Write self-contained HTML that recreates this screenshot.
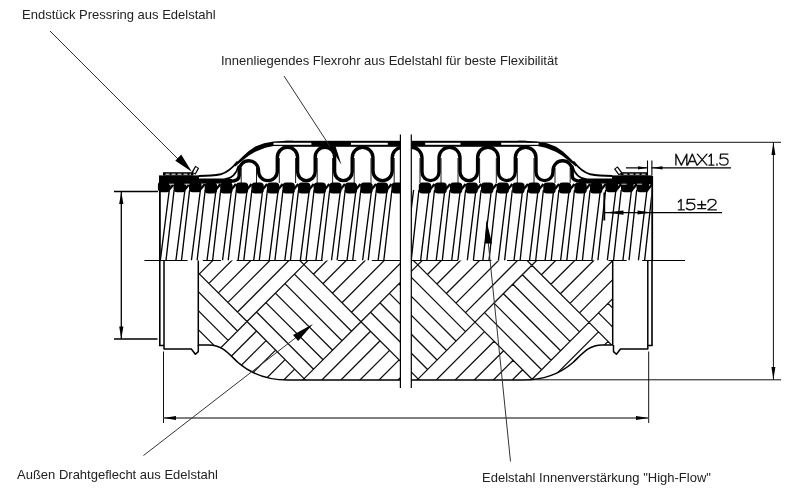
<!DOCTYPE html>
<html><head><meta charset="utf-8"><title>Flexrohr</title>
<style>
html,body{margin:0;padding:0;background:#fff;}
body{width:800px;height:491px;position:relative;overflow:hidden;font-family:"Liberation Sans",sans-serif;}
.t{position:absolute;white-space:nowrap;color:#222;line-height:1;font-size:13px;will-change:transform;}
.c{color:#111;}
</style></head><body>
<svg width="800" height="491" viewBox="0 0 800 491" style="position:absolute;left:0;top:0"><defs><clipPath id="bc"><path d="M198.3,260.5 L198.3,345 L209,345 C222,345 228,353 238,362.5 C250,373 265,380 288,380 L523,380 C546,380 561,373 573,362.5 C583,353 589,345 602,345 L612.7,345 L612.7,260.5 Z"/></clipPath>
<clipPath id="uc"><rect x="159.5" y="183" width="492" height="77.5"/></clipPath></defs>
<g clip-path="url(#bc)"><path d="M190.2,378.4L133.3,435.2M133.0,321.2L190.2,378.4M142.5,311.7L199.6,368.9M151.9,302.2L209.1,359.4M161.4,292.8L218.6,349.9M170.9,283.3L228.1,340.4M180.4,273.8L237.5,331.0M189.8,264.4L247.0,321.5M246.7,207.5L189.8,264.4M256.2,217.0L199.4,273.9M265.8,226.6L208.9,283.4M275.3,236.1L218.4,292.9M284.8,245.6L227.9,302.4M294.3,255.1L237.5,312.0M303.9,264.6L247.0,321.5M246.7,207.5L303.9,264.6M256.2,198.0L313.3,255.2M190.2,378.4L247.3,435.5M247.0,321.5L190.2,378.4M256.5,331.0L199.7,387.9M266.1,340.6L209.2,397.4M275.6,350.1L218.7,406.9M285.1,359.6L228.3,416.5M294.6,369.1L237.8,426.0M304.1,378.6L247.3,435.5M247.0,321.5L304.1,378.6M256.5,312.0L313.6,369.2M265.9,302.6L323.1,359.7M275.4,293.1L332.6,350.2M284.9,283.6L342.0,340.8M294.4,274.1L351.5,331.3M303.9,264.6L361.0,321.8M360.7,207.8L303.9,264.6M370.2,217.3L313.4,274.2M379.8,226.9L322.9,283.7M389.3,236.4L332.4,293.2M398.8,245.9L342.0,302.8M408.3,255.4L351.5,312.3M417.8,264.9L361.0,321.8M360.7,207.8L417.8,264.9M370.2,198.3L427.3,255.5M304.1,378.6L361.3,435.8M361.0,321.8L304.1,378.6M370.5,331.3L313.7,388.2M380.1,340.8L323.2,397.7M389.6,350.4L332.7,407.2M399.1,359.9L342.2,416.8M408.6,369.4L351.8,426.3M418.1,378.9L361.3,435.8M361.0,321.8L418.1,378.9M370.5,312.3L427.6,369.5M379.9,302.8L437.1,360.0M389.4,293.4L446.6,350.5M398.9,283.9L456.0,341.0M408.4,274.4L465.5,331.6M417.8,264.9L475.0,322.1M474.7,208.1L417.8,264.9M484.2,217.6L427.4,274.5M493.8,227.1L436.9,284.0M503.3,236.7L446.4,293.5M512.8,246.2L455.9,303.1M522.3,255.7L465.5,312.6M531.8,265.2L475.0,322.1M474.7,208.1L531.8,265.2M484.2,198.6L541.3,255.8M418.1,379.0L475.3,436.1M475.0,322.1L418.2,378.9M484.5,331.6L427.7,388.5M494.1,341.2L437.2,398.0M503.6,350.7L446.7,407.5M513.1,360.2L456.3,417.1M522.6,369.7L465.8,426.6M532.2,379.3L475.3,436.1M475.0,322.1L532.1,379.2M484.5,312.6L541.6,369.8M494.0,303.1L551.1,360.3M503.4,293.7L560.6,350.8M512.9,284.2L570.0,341.4M522.4,274.7L579.5,331.9M531.9,265.2L589.0,322.4M588.7,208.4L531.9,265.2M598.2,217.9L541.4,274.8M607.8,227.5L550.9,284.3M617.3,237.0L560.4,293.8M626.8,246.5L570.0,303.4M636.3,256.0L579.5,312.9M645.9,265.6L589.0,322.4M588.7,208.4L645.9,265.5M598.2,198.9L655.3,256.1M532.1,379.2L589.3,436.4M589.0,322.4L532.1,379.2M598.5,331.9L541.7,388.8M608.0,341.4L551.2,398.3M617.6,351.0L560.7,407.8M627.1,360.5L570.2,417.4M636.6,370.0L579.8,426.9M646.2,379.6L589.3,436.4M589.0,322.4L646.2,379.6M598.5,312.9L655.6,370.1M608.0,303.4L665.1,360.6M617.4,294.0L674.6,351.1" stroke="#111" stroke-width="1.3" fill="none"/></g>
<path d="M198.3,260.5 L198.3,345 L209,345 C222,345 228,353 238,362.5 C250,373 265,380 288,380 L523,380 C546,380 561,373 573,362.5 C583,353 589,345 602,345 L612.7,345 L612.7,260.5" stroke="#000" stroke-width="1.5" fill="none"/>
<path d="M159.8,260.5 L159.8,345.5 L164,345.5" stroke="#000" stroke-width="1.6" fill="none"/><path d="M164,260.5 L164,349 L191.3,349 L195.4,354.3 L198.3,351.6 L198.3,345" stroke="#000" stroke-width="1.5" fill="none" stroke-linejoin="round"/>
<path d="M652,260.5 L652,345.5 L647.8,345.5" stroke="#000" stroke-width="1.6" fill="none"/><path d="M647.8,260.5 L647.8,349 L620.5,349 L616.4,354.3 L613.5,351.6 L613.5,345" stroke="#000" stroke-width="1.5" fill="none" stroke-linejoin="round"/>
<g clip-path="url(#uc)"><path d="M138.2,190.0L129.2,260.5M153.7,190.0L144.7,260.5M169.3,190.0L160.3,260.5M184.9,190.0L175.9,260.5M200.4,190.0L191.4,260.5M216.0,190.0L207.0,260.5M231.5,190.0L222.5,260.5M247.1,190.0L238.1,260.5M262.7,190.0L253.7,260.5M278.2,190.0L269.2,260.5M293.8,190.0L284.8,260.5M309.3,190.0L300.3,260.5M324.9,190.0L315.9,260.5M340.5,190.0L331.5,260.5M356.0,190.0L347.0,260.5M371.6,190.0L362.6,260.5M387.1,190.0L378.1,260.5M127.4,190.0L119.3,260.5M142.9,190.0L134.8,260.5M158.5,190.0L150.4,260.5M174.1,190.0L166.0,260.5M189.6,190.0L181.5,260.5M205.2,190.0L197.1,260.5M220.7,190.0L212.6,260.5M236.3,190.0L228.2,260.5M251.9,190.0L243.8,260.5M267.4,190.0L259.3,260.5M283.0,190.0L274.9,260.5M298.5,190.0L290.4,260.5M314.1,190.0L306.0,260.5M329.7,190.0L321.6,260.5M345.2,190.0L337.1,260.5M360.8,190.0L352.7,260.5M376.3,190.0L368.2,260.5M391.9,190.0L383.8,260.5M413.6,190.0L405.0,260.5M429.2,190.0L420.6,260.5M444.8,190.0L436.2,260.5M460.3,190.0L451.7,260.5M475.9,190.0L467.3,260.5M491.4,190.0L482.8,260.5M507.0,190.0L498.4,260.5M522.6,190.0L514.0,260.5M538.1,190.0L529.5,260.5M553.7,190.0L545.1,260.5M569.2,190.0L560.6,260.5M584.8,190.0L576.2,260.5M600.4,190.0L591.8,260.5M615.9,190.0L607.3,260.5M631.5,190.0L622.9,260.5M647.0,190.0L638.4,260.5M418.9,190.0L411.2,260.5M434.5,190.0L426.8,260.5M450.0,190.0L442.3,260.5M465.6,190.0L457.9,260.5M481.1,190.0L473.4,260.5M496.7,190.0L489.0,260.5M512.3,190.0L504.6,260.5M527.8,190.0L520.1,260.5M543.4,190.0L535.7,260.5M558.9,190.0L551.2,260.5M574.5,190.0L566.8,260.5M590.1,190.0L582.4,260.5M605.6,190.0L597.9,260.5M621.2,190.0L613.5,260.5M636.7,190.0L629.0,260.5M652.3,190.0L644.6,260.5" stroke="#000" stroke-width="1.35" fill="none"/></g>
<path d="M159.9,176 L159.9,260.5 M652.2,176 L652.2,260.5" stroke="#000" stroke-width="1.8"/>
<path d="M144.4,260.5 L685,260.5" stroke="#000" stroke-width="1.15" stroke-dasharray="86.2 15.2 18.2 15.6" stroke-dashoffset="43"/>
<g fill="#000"><rect x="157.9" y="181.4" width="12.6" height="10.8" rx="3.6" ry="3.6"/><rect x="173.5" y="181.4" width="12.6" height="10.8" rx="3.6" ry="3.6"/><rect x="189.0" y="181.4" width="12.6" height="10.8" rx="3.6" ry="3.6"/><rect x="204.7" y="182.6" width="12.4" height="11" rx="3.6" ry="3.6"/><rect x="220.2" y="182.6" width="12.4" height="11" rx="3.6" ry="3.6"/><rect x="235.8" y="182.6" width="12.4" height="11" rx="3.6" ry="3.6"/><rect x="251.4" y="182.6" width="12.4" height="11" rx="3.6" ry="3.6"/><rect x="266.9" y="182.6" width="12.4" height="11" rx="3.6" ry="3.6"/><rect x="282.5" y="182.6" width="12.4" height="11" rx="3.6" ry="3.6"/><rect x="298.0" y="182.6" width="12.4" height="11" rx="3.6" ry="3.6"/><rect x="313.6" y="182.6" width="12.4" height="11" rx="3.6" ry="3.6"/><rect x="329.2" y="182.6" width="12.4" height="11" rx="3.6" ry="3.6"/><rect x="344.7" y="182.6" width="12.4" height="11" rx="3.6" ry="3.6"/><rect x="360.3" y="182.6" width="12.4" height="11" rx="3.6" ry="3.6"/><rect x="375.8" y="182.6" width="12.4" height="11" rx="3.6" ry="3.6"/><rect x="391.4" y="182.6" width="12.4" height="11" rx="3.6" ry="3.6"/><rect x="418.8" y="182.6" width="12.4" height="11" rx="3.6" ry="3.6"/><rect x="434.4" y="182.6" width="12.4" height="11" rx="3.6" ry="3.6"/><rect x="449.9" y="182.6" width="12.4" height="11" rx="3.6" ry="3.6"/><rect x="465.5" y="182.6" width="12.4" height="11" rx="3.6" ry="3.6"/><rect x="481.0" y="182.6" width="12.4" height="11" rx="3.6" ry="3.6"/><rect x="496.6" y="182.6" width="12.4" height="11" rx="3.6" ry="3.6"/><rect x="512.2" y="182.6" width="12.4" height="11" rx="3.6" ry="3.6"/><rect x="527.7" y="182.6" width="12.4" height="11" rx="3.6" ry="3.6"/><rect x="543.3" y="182.6" width="12.4" height="11" rx="3.6" ry="3.6"/><rect x="558.8" y="182.6" width="12.4" height="11" rx="3.6" ry="3.6"/><rect x="574.4" y="182.6" width="12.4" height="11" rx="3.6" ry="3.6"/><rect x="590.0" y="182.6" width="12.4" height="11" rx="3.6" ry="3.6"/><rect x="605.4" y="181.4" width="12.6" height="10.8" rx="3.6" ry="3.6"/><rect x="621.0" y="181.4" width="12.6" height="10.8" rx="3.6" ry="3.6"/><rect x="636.5" y="181.4" width="12.6" height="10.8" rx="3.6" ry="3.6"/></g>
<path d="M169.7,189 L173.7,184M185.3,189 L189.3,184M200.8,189 L204.8,184M216.4,189 L220.4,184M231.9,189 L235.9,184M247.5,189 L251.5,184M263.1,189 L267.1,184M278.6,189 L282.6,184M294.2,189 L298.2,184M309.7,189 L313.7,184M325.3,189 L329.3,184M340.9,189 L344.9,184M356.4,189 L360.4,184M372.0,189 L376.0,184M387.5,189 L391.5,184M403.1,189 L407.1,184M430.5,189 L434.5,184M446.1,189 L450.1,184M461.6,189 L465.6,184M477.2,189 L481.2,184M492.7,189 L496.7,184M508.3,189 L512.3,184M523.9,189 L527.9,184M539.4,189 L543.4,184M555.0,189 L559.0,184M570.5,189 L574.5,184M586.1,189 L590.1,184M601.7,189 L605.7,184M617.2,189 L621.2,184M632.8,189 L636.8,184M648.3,189 L652.3,184" stroke="#000" stroke-width="2.2" fill="none"/>
<rect x="159.0" y="175.4" width="40.0" height="9" fill="#000"/><rect x="199.0" y="179" width="33.0" height="4.6" fill="#000"/><rect x="163.0" y="172.2" width="30.5" height="3.4" fill="#000"/><path d="M165.5,174.2 L191.0,174.2" stroke="#fff" stroke-width="1" stroke-dasharray="4 2"/><path d="M193.5,173.5 L197.2,167" stroke="#000" stroke-width="4.6" fill="none"/><path d="M194.1,172.8 L196.7,167.8" stroke="#fff" stroke-width="2.2" fill="none"/><path d="M169.0,184.2 L200.0,184.2" stroke="#fff" stroke-width="0.8" stroke-dasharray="5 10.5"/>
<rect x="612.0" y="175.4" width="40.0" height="9" fill="#000"/><rect x="579.0" y="179" width="33.0" height="4.6" fill="#000"/><rect x="620.4" y="172.2" width="27.6" height="3.4" fill="#000"/><path d="M645.5,174.2 L622.5,174.2" stroke="#fff" stroke-width="1" stroke-dasharray="4 2"/><path d="M620.6,174.2 L615.8,167.6" stroke="#000" stroke-width="4.6" fill="none"/><path d="M620.0,173.4 L616.4,168.4" stroke="#fff" stroke-width="2.2" fill="none"/><path d="M642.0,184.2 L611.0,184.2" stroke="#fff" stroke-width="0.8" stroke-dasharray="5 10.5"/>
<path d="M198.6,176 C206.0,176 214.0,175.7 220.7,174.3 C228.0,172.4 233.0,167.2 237.6,161.5" stroke="#000" stroke-width="1.9" fill="none"/><polygon points="233.6,165.6 235.8,163.2 242.1,156.9 248.4,151.3 255.3,146.5 264.1,143.3 273.6,141.5 286.8,140.8 293.0,140.8 293.0,146.2 273.6,145.9 265.4,147.8 255.3,151.8 249.0,155.6 243.9,159.4 238.8,163.6 235.2,166.6" fill="#000"/><path d="M199.0,179.4 L224.0,179.4 C232.5,178.8 236.8,172.5 238.6,165.5" stroke="#000" stroke-width="1.6" fill="none"/>
<path d="M612.4,176 C605.0,176 597.0,175.7 590.3,174.3 C583.0,172.4 578.0,167.2 573.4,161.5" stroke="#000" stroke-width="1.9" fill="none"/><polygon points="577.4,165.6 575.2,163.2 568.9,156.9 562.6,151.3 555.7,146.5 546.9,143.3 537.4,141.5 524.2,140.8 518.0,140.8 518.0,146.2 537.4,145.9 545.6,147.8 555.7,151.8 562.0,155.6 567.1,159.4 572.2,163.6 575.8,166.6" fill="#000"/><path d="M612.0,179.4 L587.0,179.4 C578.5,178.8 574.2,172.5 572.4,165.5" stroke="#000" stroke-width="1.6" fill="none"/>
<rect x="285" y="140.8" width="241" height="6" fill="#000"/>
<rect x="273.5" y="142.8" width="37.9" height="2.0" fill="#fff"/>
<rect x="351.0" y="142.8" width="36.8" height="2.0" fill="#fff"/>
<rect x="425.2" y="142.8" width="35.3" height="2.0" fill="#fff"/>
<rect x="501.2" y="142.8" width="37.4" height="2.0" fill="#fff"/>
<g clip-path="url(#lh)">
<path d="M230.2,181.2 Q239.2,181.2 239.2,175.5 L239.2,170.5 C239.2,165.1 243.5,160.8 248.8,160.8 C254.2,160.8 258.5,165.1 258.5,170.5 L258.5,171.2 C258.5,176.4 262.7,180.6 267.9,180.6 C273.1,180.6 277.3,176.4 277.3,171.2 L277.3,157.5 C277.3,151.8 281.8,147.3 287.5,147.3 C293.1,147.3 297.6,151.8 297.6,157.5 L297.6,171.8 C297.6,176.7 301.5,180.6 306.4,180.6 C311.3,180.6 315.2,176.7 315.2,171.8 L315.2,157.0 C315.2,151.6 319.5,147.3 324.9,147.3 C330.3,147.3 334.6,151.6 334.6,157.0 L334.6,171.8 C334.6,176.7 338.5,180.6 343.4,180.6 C348.3,180.6 352.2,176.7 352.2,171.8 L352.2,157.7 C352.2,152.0 356.9,147.3 362.6,147.3 C368.3,147.3 373.0,152.0 373.0,157.7 L373.0,171.0 C373.0,176.3 377.3,180.6 382.6,180.6 C387.9,180.6 392.2,176.3 392.2,171.0 L392.2,157.7 C392.2,152.0 396.9,147.3 402.6,147.3 C408.3,147.3 413.0,152.0 413.0,157.7 " stroke="#000" stroke-width="3.4" fill="none" stroke-linejoin="round"/>
</g>
<g clip-path="url(#rh)">
<path d="M581.2,181.2 Q572.2,181.2 572.2,175.5 L572.2,170.4 C572.2,165.1 567.9,160.8 562.6,160.8 C557.3,160.8 553.0,165.1 553.0,170.4 L553.0,172.1 C553.0,176.8 549.2,180.6 544.5,180.6 C539.8,180.6 536.0,176.8 536.0,172.1 L536.0,157.7 C536.0,151.9 531.4,147.3 525.6,147.3 C519.9,147.3 515.3,151.9 515.3,157.7 L515.3,172.1 C515.3,176.8 511.5,180.6 506.8,180.6 C502.1,180.6 498.3,176.8 498.3,172.1 L498.3,157.7 C498.3,151.9 493.7,147.3 488.0,147.3 C482.2,147.3 477.6,151.9 477.6,157.7 L477.6,171.8 C477.6,176.7 473.7,180.6 468.8,180.6 C463.9,180.6 460.0,176.7 460.0,171.8 L460.0,157.8 C460.0,152.0 455.3,147.3 449.5,147.3 C443.7,147.3 439.0,152.0 439.0,157.8 L439.0,172.1 C439.0,176.8 435.2,180.6 430.5,180.6 C425.8,180.6 422.0,176.8 422.0,172.1 L422.0,157.8 C422.0,152.0 417.3,147.3 411.5,147.3 C405.7,147.3 401.0,152.0 401.0,157.8 " stroke="#000" stroke-width="3.4" fill="none" stroke-linejoin="round"/>
</g>
<path d="M241.2,168.0L241.2,183M256.5,168.0L256.5,183M279.3,158.0L279.3,183M295.6,158.0L295.6,183M317.2,158.0L317.2,183M332.6,158.0L332.6,183M354.2,158.0L354.2,183M371.0,158.0L371.0,183M394.2,158.0L394.2,183M570.2,168.0L570.2,183M555.0,168.0L555.0,183M534.0,158.0L534.0,183M517.3,158.0L517.3,183M496.3,158.0L496.3,183M479.6,158.0L479.6,183M458.0,158.0L458.0,183M441.0,158.0L441.0,183M420.0,158.0L420.0,183" stroke="#000" stroke-width="0.9" fill="none"/>
<defs><clipPath id="lh"><rect x="0" y="0" width="400.4" height="491"/></clipPath><clipPath id="rh"><rect x="411.3" y="0" width="400" height="491"/></clipPath></defs>
<rect x="400.4" y="134.5" width="10.9" height="253.5" fill="#fff"/>
<path d="M400.4,134.5 L400.4,388 M411.3,134.5 L411.3,388" stroke="#000" stroke-width="1.2"/>
<path d="M163.5,351.5 L163.5,423 M648.7,351.5 L648.7,423" stroke="#111" stroke-width="1" fill="none"/>
<path d="M163.5,418 L648.7,418" stroke="#555" stroke-width="1.3" fill="none"/>
<path d="M163.5,418 L176,416 L176,420 Z M648.7,418 L636,416 L636,420 Z" fill="#000"/>
<path d="M527,142.3 L781,142.3 M530,379.8 L781,379.8 M773.4,142.3 L773.4,379.8" stroke="#111" stroke-width="1" fill="none"/>
<path d="M773.4,142.3 L771.4,155 L775.4,155 Z M773.4,379.8 L771.4,367 L775.4,367 Z" fill="#000"/>
<path d="M114,191.5 L158,191.5 M114,339 L157.5,339" stroke="#000" stroke-width="1.5" fill="none"/>
<path d="M121.3,191.5 L121.3,339" stroke="#000" stroke-width="1.3" fill="none"/>
<path d="M121.3,191.5 L119.2,204 L123.4,204 Z M121.3,339 L119.2,326.5 L123.4,326.5 Z" fill="#000"/>
<path d="M647.5,160.5 L647.5,175.5 M651.9,160.5 L651.9,175.5" stroke="#000" stroke-width="1.1"/>
<path d="M626,167.8 L647,167.8 M651.5,167.8 L731,167.8" stroke="#000" stroke-width="1.25"/>
<path d="M647.3,167.8 L638,166.2 L638,169.4 Z M652,167.8 L662.5,166.2 L662.5,169.4 Z" fill="#000"/>
<path d="M604.3,192.5 L604.3,220.5" stroke="#000" stroke-width="1.8"/>
<path d="M604.3,212.6 L722,212.6" stroke="#000" stroke-width="1.2"/>
<path d="M604.8,212.6 L623.5,210.5 L623.5,214.7 Z M651.8,212.6 L637.5,210.6 L637.5,214.6 Z" fill="#000"/>
<path d="M675.9,165.1 L675.9,154.1 L681.35,165.1 L686.8,154.1 L686.8,165.1 M687.7,165.1 L692.3,154.1 L696.9,165.1 M689.5,161.5 L695.1,161.5 M697.4,154.1 L706.9,165.1 M706.9,154.1 L697.4,165.1 M709.0,156.4 L711.3,154.1 L711.3,165.1 M708.9,165.1 L714,165.1 M717,163.9 L717,165.3 M727.9,154.1 L720.6,154.1 L720.2,158.7 C722,157.6 726,157.3 727.6,159.5 C729.2,162 727.5,165.1 724,165.1 C721.8,165.1 720.3,164.5 719.6,163.2 M678.4,202.1 L681.1,199.4 L681.1,209.9 M678.4,209.9 L684.3,209.9 M694.7,199.4 L687.4,199.4 L687,203.8 C688.8,202.8 692.8,202.5 694.4,204.6 C696,207 694.3,209.9 690.8,209.9 C688.6,209.9 687.1,209.4 686.4,208.1 M697.7,204.7 L705.7,204.7 M701.7,201.1 L701.7,207.7 M697.7,208.6 L705.7,208.6 M708,202.2 C708,200.2 709.8,199.4 711.9,199.4 C714.3,199.4 716,200.6 716,202.4 C716,204.6 712,206.4 707.8,209.9 L716.4,209.9" stroke="#111" stroke-width="1.35" fill="none" stroke-linejoin="round" stroke-linecap="round"/>
<path d="M50,31 L181,162" stroke="#333" stroke-width="1"/>
<path d="M191.8,171.8 L175.3,160.8 L181.2,154.6 Z" fill="#000"/>
<path d="M284,76 L330,146.5" stroke="#333" stroke-width="1"/>
<path d="M341.4,164.8 L329.2,145.5 L335.3,145.5 Z" fill="#000"/>
<path d="M143.5,455.5 L296,337.5" stroke="#333" stroke-width="1"/>
<path d="M312.9,324 L298.2,341 L293,335 Z" fill="#000"/>
<path d="M510.5,461.5 L488.3,243" stroke="#333" stroke-width="1"/>
<path d="M486.3,220 L484.8,243.6 L492,243.6 Z" fill="#000"/></svg>
<div class="t" style="left:22.3px;top:8.1px">Endst&uuml;ck Pressring aus Edelstahl</div>
<div class="t" style="left:220.7px;top:53.7px">Innenliegendes Flexrohr aus Edelstahl f&uuml;r beste Flexibilit&auml;t</div>
<div class="t" style="left:17.3px;top:467.9px">Au&szlig;en Drahtgeflecht aus Edelstahl</div>
<div class="t" style="left:482.0px;top:470.9px">Edelstahl Innenverst&auml;rkung "High-Flow"</div>
</body></html>
